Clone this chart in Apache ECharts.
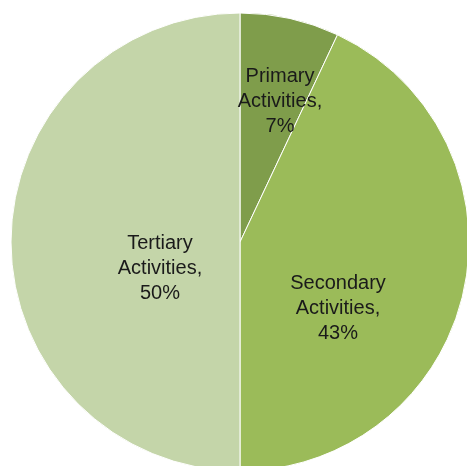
<!DOCTYPE html>
<html>
<head>
<meta charset="utf-8">
<script src="https://cdn.jsdelivr.net/npm/echarts@6/dist/echarts.min.js"></script>
<style>
  html, body { margin: 0; padding: 0; background: #fff; }
  #main { width: 467px; height: 466px; }
</style>
</head>
<body>
<div id="main"></div>
<script>
// sector data
var categories = ['Primary Activities', 'Secondary Activities', 'Tertiary Activities'];
var shares = [7, 43, 50];

var colors = ['#7f9d4b', '#9bbb59', '#c4d5a9'];
// where the labels sit (pixel centres)
var labelSpots = [[280, 101], [338, 308], [160, 268]];

var chartDom = document.getElementById('main');
var myChart = echarts.init(chartDom);
var option;

option = {
  animation: false,
  series: [
    {
      type: 'pie',
      center: [240, 242],
      radius: 229,
      startAngle: 90,
      clockwise: true,
      data: categories.map(function (c, i) {
        return { name: c, value: shares[i], itemStyle: { color: colors[i] } };
      }),
      itemStyle: { borderColor: '#ffffff', borderWidth: 1 },
      label: {
        show: true,
        position: 'inside',
        formatter: function (p) {
          return p.name.replace(' ', '\n') + ',\n' + p.value + '%';
        },
        fontFamily: 'Liberation Sans',
        fontSize: 20,
        lineHeight: 25,
        color: '#1a1a1a',
        align: 'center',
        verticalAlign: 'middle'
      },
      labelLine: { show: false },
      labelLayout: function (params) {
        var s = labelSpots[params.dataIndex];
        return { x: s[0], y: s[1], align: 'center', verticalAlign: 'middle' };
      },
      emphasis: { disabled: true }
    }
  ]
};

option && myChart.setOption(option);
</script>
</body>
</html>
